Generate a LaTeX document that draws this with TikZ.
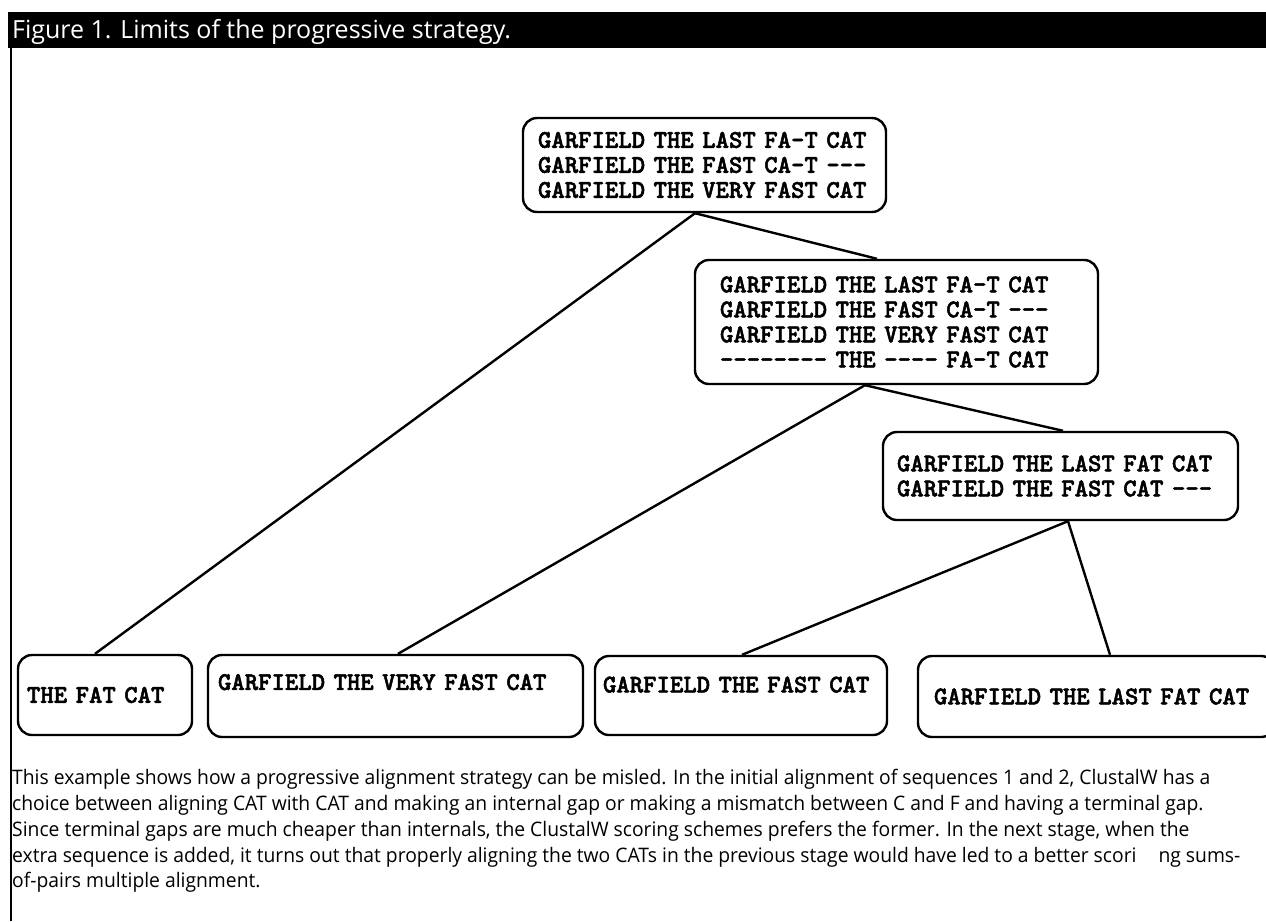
\documentclass[tikz,border=0pt]{standalone}
\usepackage{fontspec}
\usepackage{tikz}
\usetikzlibrary{
        arrows,
        positioning,
        shapes
    }
\newfontfamily\headfont{Open Sans}
\newfontfamily\captfont[FakeStretch=0.965]{Open Sans}
\newfontfamily\seqfont[FakeBold=2]{lmmonolt10-bold.otf}
\tikzset{x=1pt,y=-1pt}
\tikzset{seqbox/.style={draw,rounded corners=14pt,line width=2.4pt,align=left,
        font=\seqfont\fontsize{25.5}{25}\selectfont}}
\tikzset{conn/.style={line width=2.4pt}}
\tikzset{captxt/.style={anchor=base west,inner sep=0pt,font=\captfont\fontsize{20}{26}\selectfont}}

\begin{document}
\begin{tikzpicture}
                \useasboundingbox (0,0) rectangle (1266,921);
                \clip (0,0) rectangle (1266,921);
                % title bar
                \fill[black] (8,12) rectangle (1266,48);
                \node[anchor=base west,inner sep=0pt,text=white,font=\headfont\fontsize{25}{26}\selectfont] (title) at (12,38) {Figure 1. Limits of the progressive strategy.};
                \draw[line width=1.5pt] (11,48) -- (11,921);
                % alignments
                \node[seqbox,minimum height=94pt,text width=333pt,inner xsep=15pt] (alnA) at (704.5,165)
                    {GARFIELD THE LAST FA-T CAT\\GARFIELD THE FAST CA-T ---\\GARFIELD THE VERY FAST CAT};
                \node[seqbox,minimum height=124pt,text width=353pt,inner xsep=25pt] (alnB) at (896.5,322)
                    {GARFIELD THE LAST FA-T CAT\\GARFIELD THE FAST CA-T ---\\GARFIELD THE VERY FAST CAT\\-{}-{}-{}-{}-{}-{}-{}- THE -{}-{}-{}- FA-T CAT};
                \node[seqbox,minimum height=88pt,text width=327pt,inner xsep=14pt] (alnC) at (1060.5,476)
                    {GARFIELD THE LAST FAT CAT\\GARFIELD THE FAST CAT ---};
                % sequences
                \node[seqbox,minimum height=80pt,text width=156pt,inner xsep=9pt] (seqA) at (105,695) {THE FAT CAT};
                \node[seqbox,minimum height=82pt,text width=355pt,inner xsep=10pt,text depth=28pt] (seqB) at (395.5,696) {GARFIELD THE VERY FAST CAT};
                \node[seqbox,minimum height=79pt,text width=276pt,inner xsep=8pt,text depth=22pt] (seqC) at (741,695.5) {GARFIELD THE FAST CAT};
                \node[seqbox,minimum height=81pt,text width=325pt,inner xsep=16pt] (seqD) at (1096.5,696.5) {GARFIELD THE LAST FAT CAT};
                \path[conn]
                    ([xshift=-9.5pt]alnA.south) edge ([xshift=-10pt]seqA.north)
                    ([xshift=-9.5pt]alnA.south) edge ([xshift=-19.5pt]alnB.north)
                    ([xshift=-31.5pt]alnB.south) edge ([xshift=2.5pt]seqB.north)
                    ([xshift=-31.5pt]alnB.south) edge ([xshift=2.5pt]alnC.north)
                    ([xshift=7.5pt]alnC.south) edge ([xshift=1pt]seqC.north)
                    ([xshift=7.5pt]alnC.south) edge ([xshift=13.5pt]seqD.north);
                % caption
                \node[captxt] (capA) at (12,784) {This example shows how a progressive alignment strategy can be misled. In the initial alignment of sequences 1 and 2, ClustalW has a};
                \node[captxt] (capB) at (12,810) {choice between aligning CAT with CAT and making an internal gap or making a mismatch between C and F and having a terminal gap.};
                \node[captxt] (capC) at (12,836) {Since terminal gaps are much cheaper than internals, the ClustalW scoring schemes prefers the former. In the next stage, when the};
                \node[captxt] (capD) at (12,862) {extra sequence is added, it turns out that properly aligning the two CATs in the previous stage would have led to a better scori\hspace{22pt}ng sums-};
                \node[captxt] (capE) at (12,887) {of-pairs multiple alignment.};
            \end{tikzpicture}
\end{document}
